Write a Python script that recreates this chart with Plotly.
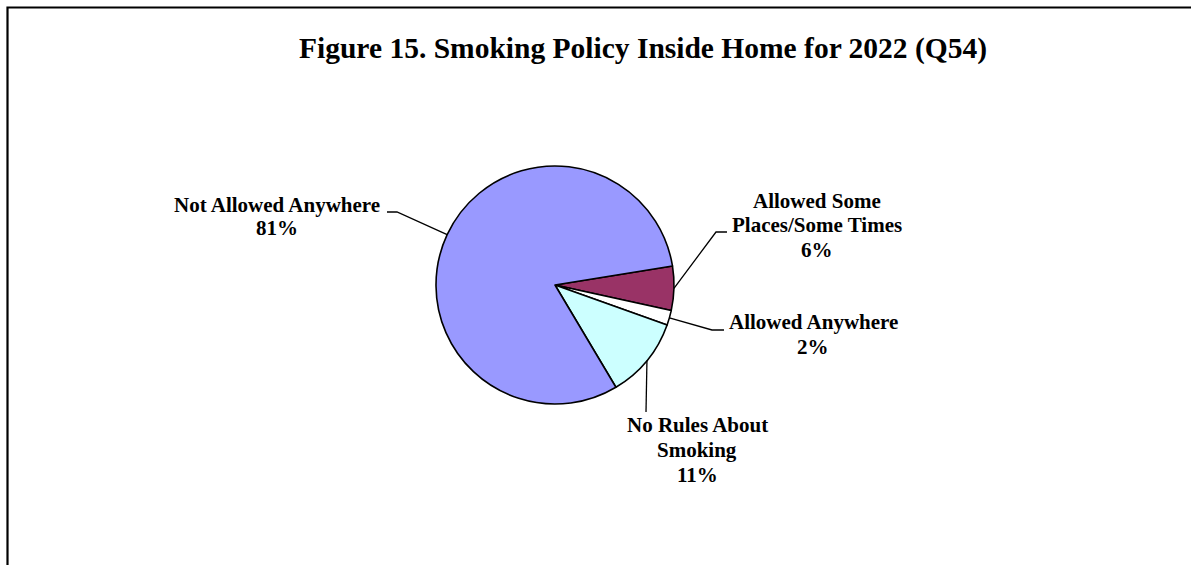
import math
import plotly.graph_objects as go

# Survey responses, Q54: smoking policy inside the home (2022)
categories = [
    "Allowed Some Places/Some Times",
    "Allowed Anywhere",
    "No Rules About Smoking",
    "Not Allowed Anywhere",
]
percentages = [6, 2, 11, 81]
slice_colors = ["#993366", "#FFFFFF", "#CCFFFF", "#9999FF"]

# Line breaks used in the outside labels
label_lines = {
    "Allowed Some Places/Some Times": ["Allowed Some", "Places/Some Times"],
    "Allowed Anywhere": ["Allowed Anywhere"],
    "No Rules About Smoking": ["No Rules About", "Smoking"],
    "Not Allowed Anywhere": ["Not Allowed Anywhere"],
}

W, H = 1191, 565
FONT = "Liberation Serif, Times New Roman, serif"

# pie geometry in pixels
CX, CY, R = 555, 285, 119
ROTATION = 80.8  # start of the first slice, degrees clockwise from 12 o'clock

# label block placement: (centre x, first baseline y, line step) and leader elbow
label_layout = {
    "Allowed Some Places/Some Times": dict(x=817, y=208, step=24.5, elbow=[(716, 232), (727, 232)]),
    "Allowed Anywhere": dict(x=813, y=329, step=25, elbow=[(712, 330), (724, 330)]),
    "No Rules About Smoking": dict(x=697, y=432, step=25, elbow=[(646, 412)]),
    "Not Allowed Anywhere": dict(x=277, y=212, step=23, elbow=[(397, 212), (387, 212)]),
}


def px(x):
    return x / W


def py(y):
    return 1 - y / H


fig = go.Figure()
fig.add_trace(go.Pie(
    labels=categories,
    values=percentages,
    sort=False,
    direction="clockwise",
    rotation=ROTATION,
    marker=dict(colors=slice_colors, line=dict(color="black", width=1.6)),
    textinfo="none",
    hoverinfo="skip",
    showlegend=False,
    domain=dict(x=[px(CX - R), px(CX + R)], y=[py(CY + R), py(CY - R)]),
))

annotations = []
shapes = []
total = sum(percentages)
angle = ROTATION
for cat, val in zip(categories, percentages):
    span = 360 * val / total
    mid = math.radians(angle + span / 2)
    angle += span
    # leader line from slice edge to the label
    sx = CX + R * math.sin(mid)
    sy = CY - R * math.cos(mid)
    pts = [(sx, sy)] + label_layout[cat]["elbow"]
    path = "M " + " L ".join(f"{px(x):.5f},{py(y):.5f}" for x, y in pts)
    shapes.append(dict(type="path", path=path, xref="paper", yref="paper",
                       line=dict(color="black", width=1.3)))
    lay = label_layout[cat]
    lines = label_lines[cat] + [f"{val}%"]
    for i, text in enumerate(lines):
        base = lay["y"] + i * lay["step"]
        annotations.append(dict(
            text=f"<b>{text}</b>", x=px(lay["x"]), y=py(base - 7),
            xref="paper", yref="paper", xanchor="center", yanchor="middle",
            showarrow=False, font=dict(family=FONT, size=21, color="black"),
        ))

# chart title
annotations.append(dict(
    text="<b>Figure 15. Smoking Policy Inside Home for 2022 (Q54)</b>",
    x=px(643), y=py(48), xref="paper", yref="paper",
    xanchor="center", yanchor="middle", showarrow=False,
    font=dict(family=FONT, size=29.5, color="black"),
))

# chart frame (left and top edges)
shapes.append(dict(type="path", xref="paper", yref="paper",
                   path=f"M {px(7.5)},0 L {px(7.5)},{py(7.5)} L 1,{py(7.5)}",
                   line=dict(color="black", width=2.2)))

fig.update_layout(
    width=W, height=H,
    margin=dict(l=0, r=0, t=0, b=0),
    paper_bgcolor="white", plot_bgcolor="white",
    annotations=annotations, shapes=shapes,
)

fig.write_html("out.html")
